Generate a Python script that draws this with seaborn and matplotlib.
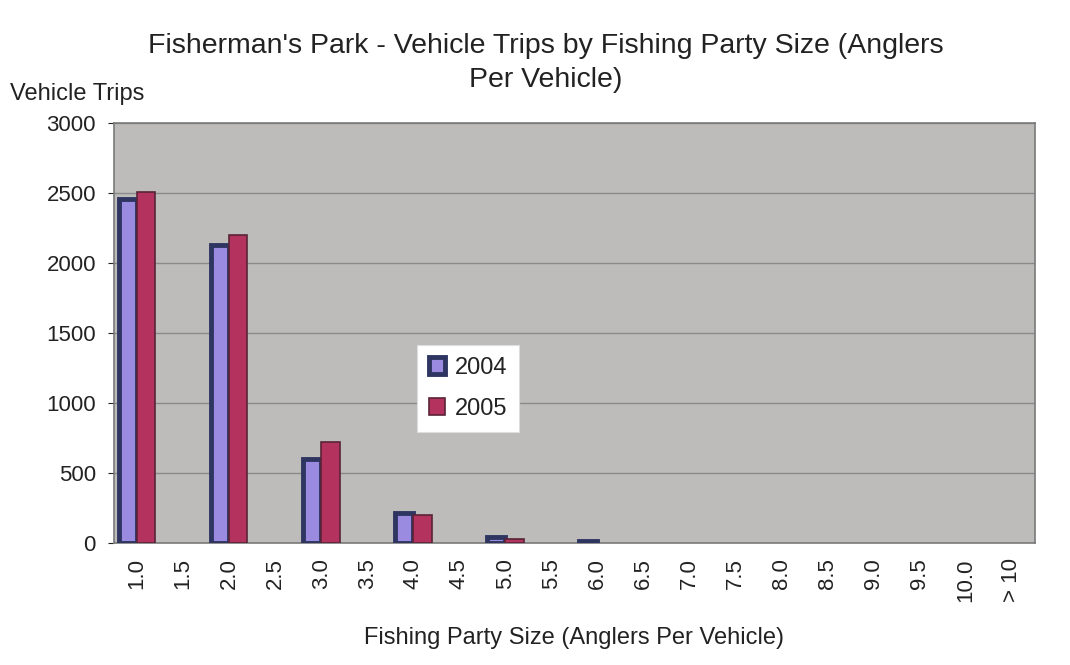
import matplotlib
matplotlib.use("Agg")
import matplotlib.pyplot as plt
import seaborn as sns
import pandas as pd

# party sizes and vehicle trips
sizes = ["1.0", "1.5", "2.0", "2.5", "3.0", "3.5", "4.0", "4.5", "5.0", "5.5",
         "6.0", "6.5", "7.0", "7.5", "8.0", "8.5", "9.0", "9.5", "10.0", "> 10"]
trips_2004 = [2460, 0, 2130, 0, 600, 0, 215, 0, 45, 0, 15, 0, 0, 0, 0, 0, 0, 0, 0, 0]
trips_2005 = [2510, 0, 2200, 0, 720, 0, 200, 0, 30, 0, 0, 0, 0, 0, 0, 0, 0, 0, 0, 0]
years = ["2004", "2005"]

df = pd.DataFrame({
    "size": sizes * 2,
    "trips": trips_2004 + trips_2005,
    "year": [years[0]] * len(sizes) + [years[1]] * len(sizes),
})

sns.set_style("white")
plt.rcParams["font.family"] = ["Liberation Sans", "DejaVu Sans"]
txt = "#222222"

fig = plt.figure(figsize=(10.7, 6.65), dpi=100)
ax = fig.add_axes([0.1065, 0.1835, 0.8605, 0.6315])
ax.set_facecolor("#bdbcbb")

sns.barplot(data=df, x="size", y="trips", hue="year", order=sizes,
            palette={"2004": "#9a8ae0", "2005": "#b3325e"}, saturation=1,
            width=0.8, ax=ax, zorder=3)

# edge styles like the old excel chart; hide empty bars
for bar in ax.containers[0]:
    bar.set_edgecolor("#2e3560")
    bar.set_linewidth(3.5 if bar.get_height() > 0 else 0)
for bar in ax.containers[1]:
    bar.set_edgecolor("#5a2438")
    bar.set_linewidth(1.2 if bar.get_height() > 0 else 0)

ax.set_ylim(0, 3000)
ax.set_yticks(range(0, 3001, 500))
ax.set_xlim(-0.5, len(sizes) - 0.5)
ax.yaxis.grid(True, color="#8a8a8a", linewidth=1, zorder=0)
ax.set_axisbelow(True)
for s in ax.spines.values():
    s.set_color("#7a7a7a")
    s.set_linewidth(1.2)

ax.tick_params(axis="y", labelsize=16, colors=txt, length=4, left=True, pad=9)
ax.tick_params(axis="x", labelsize=16, colors=txt, length=0, pad=11)
plt.setp(ax.get_xticklabels(), rotation=90)
ax.set_xlabel("Fishing Party Size (Anglers Per Vehicle)", fontsize=17, color=txt, labelpad=18)
ax.set_ylabel("")
fig.text(0.009, 0.858, "Vehicle Trips", fontsize=17, color=txt, va="center")
fig.text(0.51, 0.906, "Fisherman's Park - Vehicle Trips by Fishing Party Size (Anglers\nPer Vehicle)",
         fontsize=20.5, color=txt, ha="center", va="center", linespacing=1.4)

leg = ax.legend(loc="upper left", bbox_to_anchor=(0.329, 0.471), fontsize=17,
                frameon=True, fancybox=False, edgecolor="#dddddd", facecolor="white",
                framealpha=1, handlelength=0.7, handleheight=0.7, handletextpad=0.4,
                labelspacing=0.8, borderpad=0.5, borderaxespad=0)
leg.get_frame().set_linewidth(0.8)
handles = leg.legend_handles
handles[0].set_edgecolor("#2e3560")
handles[0].set_linewidth(3.5)
handles[1].set_edgecolor("#5a2438")
handles[1].set_linewidth(1.2)
for t in leg.get_texts():
    t.set_color(txt)

fig.savefig("out.png", dpi=100, facecolor="white")
